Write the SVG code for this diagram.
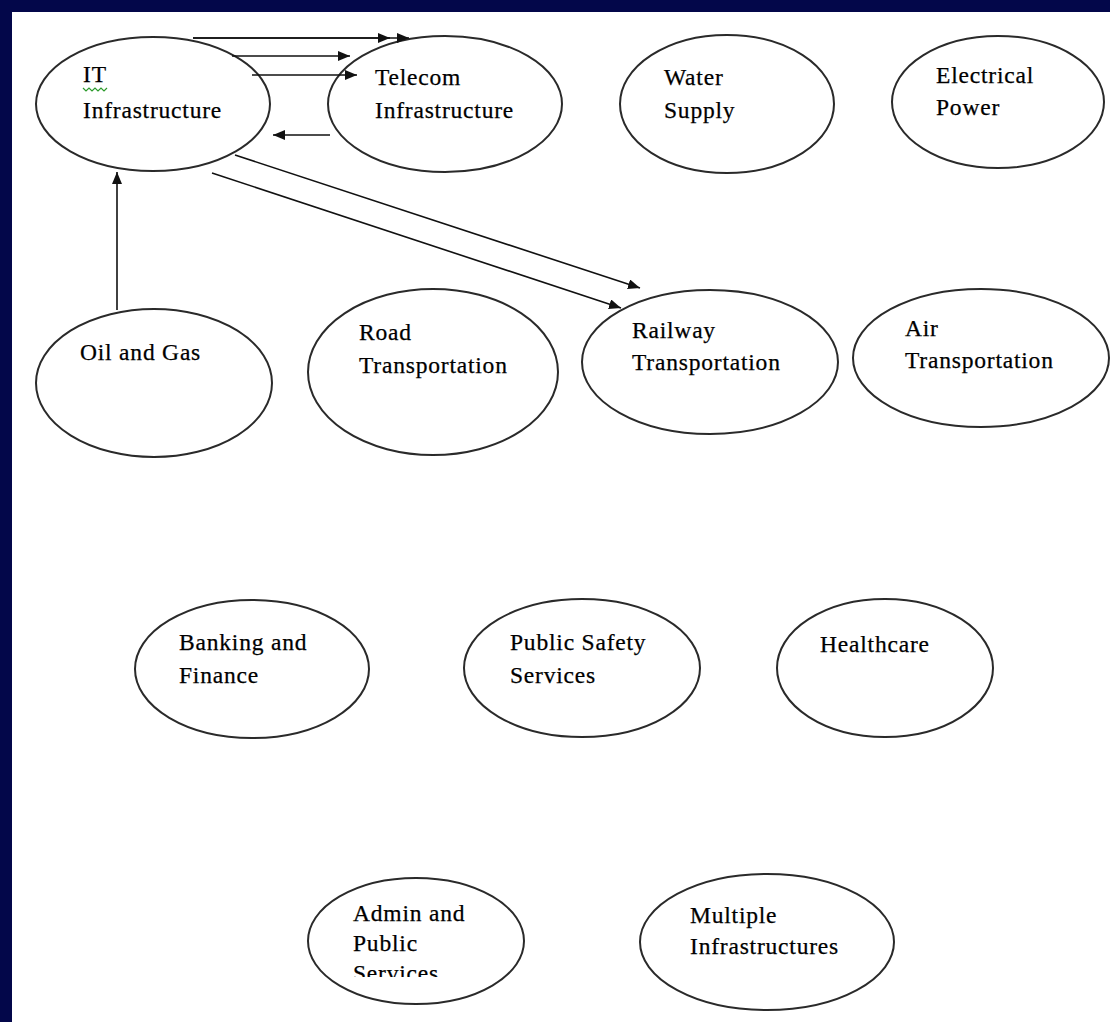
<svg xmlns="http://www.w3.org/2000/svg" width="1110" height="1022" viewBox="0 0 1110 1022">
<style>
.node ellipse{fill:#fff;stroke:#2a2a2a;stroke-width:2}
.node text{font-family:"Liberation Serif","Times New Roman",serif;font-size:23.5px;fill:#000;stroke:#000;stroke-width:0.25;letter-spacing:0.8px}
.conn line{stroke:#111;stroke-width:1.6}
</style>
<defs>
<marker id="ah" viewBox="0 0 12 10" refX="12" refY="5" markerWidth="12" markerHeight="10" markerUnits="userSpaceOnUse" orient="auto">
<path d="M0,0 L12,5 L0,10 z" fill="#111"/>
</marker>
<clipPath id="clipAdmin"><rect x="300" y="880" width="240" height="97"/></clipPath>
</defs>
<rect x="0" y="0" width="1110" height="1022" fill="#03074a"/>
<rect x="12" y="12" width="1098" height="1010" fill="#fff"/>

<g id="n-it" class="node">
<ellipse cx="153" cy="104" rx="117" ry="67"/>
<text x="83" y="82">IT</text>
<text x="83" y="118">Infrastructure</text>
<polyline points="83,88 86,91 89,88 92,91 95,88 98,91 101,88 104,91 107,88" fill="none" stroke="#2c9a2c" stroke-width="1.2"/>
</g>
<g id="n-telecom" class="node">
<ellipse cx="445" cy="104" rx="117" ry="68"/>
<text x="375" y="85">Telecom</text>
<text x="375" y="118">Infrastructure</text>
</g>
<g id="n-water" class="node">
<ellipse cx="727" cy="104" rx="107" ry="69"/>
<text x="664" y="85">Water</text>
<text x="664" y="118">Supply</text>
</g>
<g id="n-power" class="node">
<ellipse cx="998" cy="102" rx="106" ry="66"/>
<text x="936" y="83">Electrical</text>
<text x="936" y="115">Power</text>
</g>
<g id="n-oil" class="node">
<ellipse cx="154" cy="383" rx="118" ry="74"/>
<text x="80" y="360">Oil and Gas</text>
</g>
<g id="n-road" class="node">
<ellipse cx="433" cy="372" rx="125" ry="83"/>
<text x="359" y="340">Road</text>
<text x="359" y="373">Transportation</text>
</g>
<g id="n-rail" class="node">
<ellipse cx="710" cy="362" rx="128" ry="72"/>
<text x="632" y="338">Railway</text>
<text x="632" y="370">Transportation</text>
</g>
<g id="n-air" class="node">
<ellipse cx="981" cy="358" rx="128" ry="69"/>
<text x="905" y="336">Air</text>
<text x="905" y="368">Transportation</text>
</g>
<g id="n-bank" class="node">
<ellipse cx="252" cy="669" rx="117" ry="69"/>
<text x="179" y="650">Banking and</text>
<text x="179" y="683">Finance</text>
</g>
<g id="n-safety" class="node">
<ellipse cx="582" cy="668" rx="118" ry="69"/>
<text x="510" y="650">Public Safety</text>
<text x="510" y="683">Services</text>
</g>
<g id="n-health" class="node">
<ellipse cx="885" cy="668" rx="108" ry="69"/>
<text x="820" y="652">Healthcare</text>
</g>
<g id="n-admin" class="node">
<ellipse cx="416" cy="941" rx="108" ry="63"/>
<text x="353" y="921">Admin and</text>
<text x="353" y="951">Public</text>
<text x="353" y="981" clip-path="url(#clipAdmin)">Services</text>
</g>
<g id="n-multi" class="node">
<ellipse cx="767" cy="942" rx="127" ry="68"/>
<text x="690" y="923">Multiple</text>
<text x="690" y="954">Infrastructures</text>
</g>

<g id="connectors" class="conn">
<line x1="193" y1="38" x2="390" y2="38" marker-end="url(#ah)"/>
<line x1="193" y1="38" x2="409" y2="38" marker-end="url(#ah)"/>
<line x1="232" y1="56" x2="350" y2="56" marker-end="url(#ah)"/>
<line x1="252" y1="75" x2="357" y2="75" marker-end="url(#ah)"/>
<line x1="330" y1="135" x2="273" y2="135" marker-end="url(#ah)"/>
<line x1="117" y1="310" x2="117" y2="172" marker-end="url(#ah)"/>
<line x1="235" y1="155" x2="640" y2="288" marker-end="url(#ah)"/>
<line x1="212" y1="173" x2="621" y2="308" marker-end="url(#ah)"/>
</g>
</svg>
